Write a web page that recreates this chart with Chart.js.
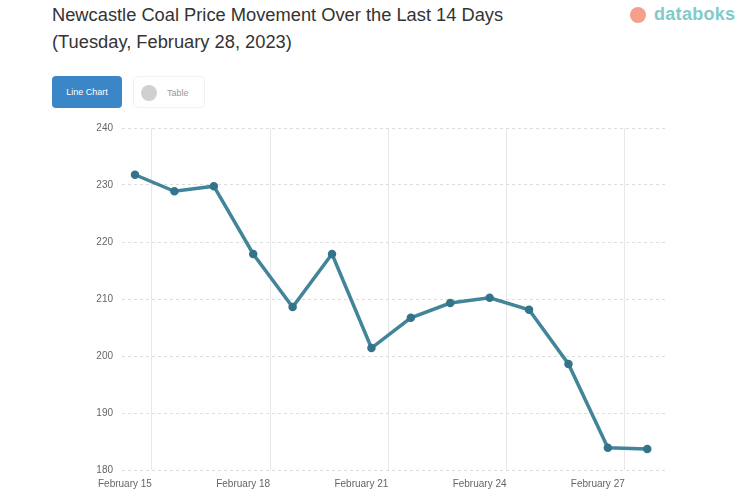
<!DOCTYPE html>
<html>
<head>
<meta charset="utf-8">
<script src="https://cdn.jsdelivr.net/npm/chart.js@4"></script>
<style>
  html,body{margin:0;padding:0;background:#fff;}
  body{width:753px;height:498px;position:relative;overflow:hidden;font-family:"Liberation Sans",Arial,sans-serif;}
  #title{position:absolute;left:52px;top:1px;font-size:18.3px;line-height:27px;color:#333;}
  #logo{position:absolute;left:630px;top:5px;height:20px;}
  #logo .dot{position:absolute;left:0;top:2px;width:16px;height:16px;border-radius:50%;background:#f4a08a;}
  #logo .txt{position:absolute;left:24px;top:-1px;font-size:18px;font-weight:bold;color:#7fcbcb;letter-spacing:0.3px;}
  .btn{position:absolute;top:76px;height:32px;border-radius:4px;font-size:9px;line-height:32px;}
  #btnChart{left:52px;width:70px;background:#3a86c6;color:#fff;text-align:center;}
  #btnTable{left:133px;width:72px;border:1px solid #f0f0f0;color:#999;box-sizing:border-box;}
  #btnTable .ic{position:absolute;left:7px;top:8px;width:16px;height:16px;border-radius:50%;background:#d0d0d0;}
  #btnTable span{position:absolute;left:33px;}
  #wrap{position:absolute;left:0;top:110px;width:753px;height:388px;}
</style>
</head>
<body>
<div id="title">Newcastle Coal Price Movement Over the Last 14 Days<br>(Tuesday, February 28, 2023)</div>
<div id="logo"><div class="dot"></div><div class="txt">databoks</div></div>
<div class="btn" id="btnChart">Line Chart</div>
<div class="btn" id="btnTable"><div class="ic"></div><span>Table</span></div>
<div id="wrap"><canvas id="c"></canvas></div>
<script>
// --- data: Newcastle coal price (US$/ton), one value per day ---
const prices = [231.8, 228.9, 229.8, 217.9, 208.6, 217.9, 201.4, 206.7, 209.3, 210.2, 208.1, 198.6, 183.9, 183.7];
const xLabels = ['February 15', 'February 18', 'February 21', 'February 24', 'February 27'];
const xTickPos = [0.43, 3.43, 6.43, 9.43, 12.43];
const yTicks = [180, 190, 200, 210, 220, 230, 240];

const points = prices.map((v, i) => ({x: i, y: v}));

new Chart(document.getElementById('c'), {
  type: 'line',
  data: {
    datasets: [{
      data: points,
      borderColor: '#428599',
      borderWidth: 3.5,
      pointRadius: 2.5,
      pointBackgroundColor: '#34748a',
      pointBorderColor: '#34748a',
      tension: 0,
      fill: false
    }]
  },
  options: {
    responsive: true,
    maintainAspectRatio: false,
    animation: false,
    layout: {padding: {left: 0, right: 88, top: 18, bottom: 0}},
    plugins: {legend: {display: false}, tooltip: {enabled: false}},
    scales: {
      x: {
        type: 'linear',
        min: -0.33,
        max: 13.45,
        afterBuildTicks: s => { s.ticks = xTickPos.map(v => ({value: v})); },
        afterFit: s => { s.height = 28; },
        border: {display: false},
        grid: {color: '#e8e8e8', drawTicks: false},
        ticks: {
          font: {size: 10, family: 'Liberation Sans'},
          color: '#666',
          padding: 8,
          maxRotation: 0,
          labelOffset: -27,
          callback: (v, i) => xLabels[i]
        }
      },
      y: {
        min: yTicks[0],
        max: yTicks[yTicks.length - 1],
        afterBuildTicks: s => { s.ticks = yTicks.map(v => ({value: v})); },
        afterFit: s => { s.width = 122; },
        border: {display: false, dash: [3, 3]},
        grid: {color: '#dcdcdc', drawTicks: false},
        ticks: {font: {size: 10, family: 'Liberation Sans'}, color: '#666', padding: 9}
      }
    }
  }
});
</script>
</body>
</html>
